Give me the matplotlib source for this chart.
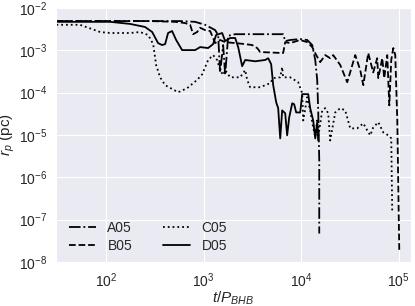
import matplotlib
matplotlib.use("Agg")
import matplotlib.pyplot as plt
import seaborn as sns

# values (t in units of P_BHB, r_p in pc)
t_a05 = [31, 283, 574, 818, 1036, 1312, 1408, 1476, 1585, 1663, 1784, 2105,
         6531, 6855, 7709, 9772, 11530, 12970, 13930, 14590, 14940, 15310, 15310]
r_a05 = [4.9e-3, 4.9e-3, 4.9e-3, 4.7e-3, 4.0e-3, 3.0e-3, 2.3e-3, 3.0e-4, 1.33e-3,
         2.6e-4, 2.2e-3, 2.4e-3, 2.4e-3, 1.65e-3, 1.75e-3, 1.84e-3, 1.75e-3,
         1.33e-3, 5.9e-4, 2.0e-4, 3.8e-5, 2.5e-6, 4.7e-8]

t_b05 = [31, 283, 510, 646, 727, 780, 858, 921, 1036, 1166, 1251, 1312, 1476,
         1663, 2105, 2667, 3141, 3538, 3795, 6531, 6855, 7709, 9772, 11530,
         12970, 14250, 15670, 17620, 19820, 21280, 25120, 29630, 35810, 40300,
         43280, 48640, 54700, 60120, 61660, 67760, 70960, 76210, 79980, 83750,
         87900, 92040, 96600, 101200]
r_b05 = [4.9e-3, 4.9e-3, 4.7e-3, 4.4e-3, 4.0e-3, 2.4e-3, 2.7e-3, 3.4e-3, 3.0e-3,
         2.85e-3, 1.95e-3, 1.48e-3, 1.75e-3, 1.56e-3, 1.48e-3, 1.4e-3, 1.33e-3,
         1.13e-3, 9.1e-4, 8.6e-4, 1.56e-3, 1.48e-3, 1.75e-3, 1.56e-3, 1.19e-3,
         7.7e-4, 5.25e-4, 7.7e-4, 6.5e-4, 7.7e-4, 4.5e-4, 1.76e-4, 7.7e-4,
         3.4e-4, 1.5e-4, 8.6e-4, 3.0e-4, 6.5e-4, 2.2e-4, 6.5e-4, 2.2e-4, 7.7e-4,
         5.0e-5, 5.9e-4, 1.13e-3, 7.7e-4, 2.2e-5, 1.84e-8]

t_c05 = [31, 54, 87, 110, 176, 223, 270, 304, 326, 358, 403, 548, 677, 858,
         966, 1112, 1251, 1375, 1476, 1585, 1663, 1871, 2368, 2667, 2793, 2998,
         3795, 4809, 5164, 6095, 6383, 6531, 7709, 9311, 10233, 10490, 11530,
         12360, 13270, 13930, 14590, 14940, 16410, 17620, 18920, 19820, 22330,
         25120, 28250, 31830, 37500, 43280, 47550, 51050, 54700, 61660, 69340,
         78010, 83750, 85720]
r_c05 = [4.0e-3, 4.0e-3, 2.7e-3, 2.56e-3, 2.56e-3, 2.7e-3, 2.3e-3, 1.4e-3,
         4.5e-4, 2.3e-4, 1.5e-4, 1.02e-4, 1.27e-4, 2.0e-4, 2.7e-4, 5.9e-4,
         7.7e-4, 5.9e-4, 3.4e-4, 2.6e-4, 3.4e-4, 2.3e-4, 2.3e-4, 3.4e-4, 2.0e-4,
         1.34e-4, 1.34e-4, 1.67e-4, 2.2e-4, 2.3e-4, 4.0e-4, 2.3e-4, 2.3e-4,
         1.76e-4, 9.7e-5, 2.2e-5, 7.8e-5, 3.8e-5, 1.5e-5, 8.8e-6, 2.2e-5,
         8.8e-6, 3.8e-5, 4.3e-5, 3.25e-5, 7.4e-6, 3.4e-5, 4.3e-5, 3.8e-5,
         1.43e-5, 1.43e-5, 1.88e-5, 1.28e-5, 9.8e-6, 1.5e-5, 2.0e-5, 1.15e-5,
         9.8e-6, 8.3e-6, 1.5e-7]

t_d05 = [31, 110, 176, 251, 297, 341, 375, 403, 432, 475, 523, 602, 818, 921,
         1112, 1251, 1343, 1548, 1663, 1871, 2105, 2260, 2483, 2667, 3374,
         4272, 4587, 4922, 5164, 5543, 5808, 6095, 6383, 6855, 7178, 7534,
         8091, 8472, 8886, 9772, 10233, 11800, 12360, 13270, 13930, 14590, 14940]
r_d05 = [4.7e-3, 4.7e-3, 4.2e-3, 3.55e-3, 2.7e-3, 1.48e-3, 1.33e-3, 1.4e-3,
         2.56e-3, 2.85e-3, 1.75e-3, 1.01e-3, 1.01e-3, 1.19e-3, 1.13e-3, 1.4e-3,
         2.3e-3, 2.56e-3, 1.65e-3, 1.95e-3, 1.95e-3, 1.19e-3, 4.2e-4, 5.9e-4,
         5.5e-4, 5.9e-4, 6.5e-4, 4.7e-4, 1.5e-4, 5.9e-5, 4.3e-5, 8.3e-6, 3.8e-5,
         3.25e-5, 9.8e-6, 2.6e-5, 5.6e-5, 5.3e-5, 3.4e-5, 3.4e-5, 9.2e-5,
         9.2e-5, 4.3e-5, 2.2e-5, 8.3e-6, 2.0e-5, 7.4e-6]

labels = ["A05", "B05", "C05", "D05"]

sns.set_style("darkgrid")
plt.rcParams["font.family"] = ["Liberation Sans", "DejaVu Sans"]
plt.rcParams["mathtext.fontset"] = "custom"
plt.rcParams["mathtext.rm"] = "Liberation Sans"
plt.rcParams["mathtext.it"] = "Liberation Sans:italic"

fig = plt.figure(figsize=(4.15, 3.06), dpi=100)
ax = fig.add_axes([0.135, 0.144, 0.855, 0.83])

ax.plot(t_a05, r_a05, "k-.", lw=1.3, label=labels[0])
ax.plot(t_b05, r_b05, "k--", lw=1.3, label=labels[1])
ax.plot(t_c05, r_c05, "k:", lw=1.3, label=labels[2])
ax.plot(t_d05, r_d05, "k-", lw=1.3, label=labels[3])

ax.set_xscale("log")
ax.set_yscale("log")
ax.set_xlim(30.7, 1.33e5)
ax.set_ylim(1e-8, 1e-2)
ax.tick_params(labelsize=10, pad=3)
ax.set_xlabel("$t/P_{BHB}$", fontsize=11, labelpad=0)
ax.set_ylabel("$r_p$ (pc)", fontsize=11, labelpad=1)

ax.legend(loc="lower left", bbox_to_anchor=(0.0, -0.015), ncol=2,
          frameon=False, fontsize=10, handlelength=2.0, columnspacing=2.2,
          labelspacing=0.3)

fig.savefig("out.png", dpi=100)
